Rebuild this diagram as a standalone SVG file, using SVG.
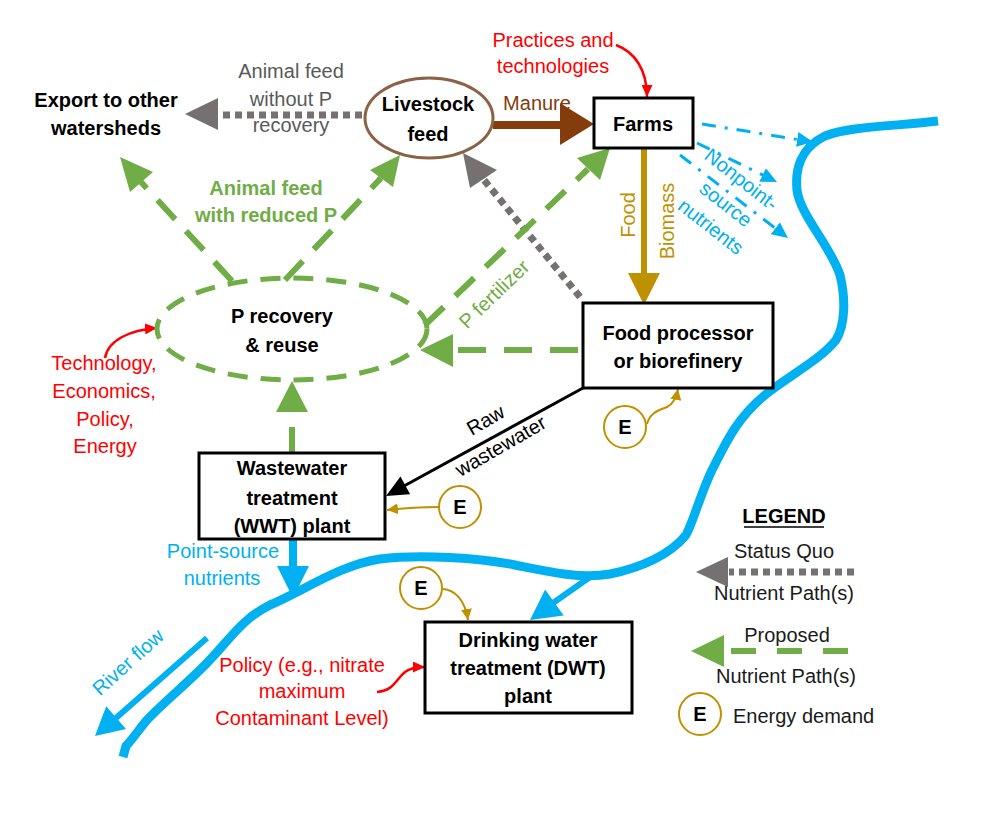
<svg xmlns="http://www.w3.org/2000/svg" width="983" height="831" viewBox="0 0 983 831">
<defs>
<style>
.t{font-family:"Liberation Sans",Arial,sans-serif;font-size:20px;text-anchor:middle}
.b{font-weight:bold;fill:#000}
.box{fill:#fff;stroke:#000;stroke-width:3}
.gd{stroke:#70AD47;stroke-width:6;stroke-dasharray:26 16;fill:none}
.gy{stroke:#767171;stroke-width:7;stroke-dasharray:7 5;fill:none}
.dd{stroke:#00B0F0;stroke-width:3;stroke-dasharray:14 9 3 9;fill:none}
.ec{fill:#fff;stroke:#BF9000;stroke-width:2}
.gf{fill:#70AD47}
.gyf{fill:#767171}
.red{fill:#FF0000}
.blue{fill:#00B0F0}
.gold{fill:#BF9000}
</style>
<marker id="mb" markerUnits="userSpaceOnUse" markerWidth="17" markerHeight="15" refX="16" refY="7.5" orient="auto"><path d="M0,0 L16,7.5 L0,15 z" fill="#00B0F0"/></marker>
<marker id="mg" markerUnits="userSpaceOnUse" markerWidth="12" markerHeight="11" refX="11" refY="5.5" orient="auto"><path d="M0,0 L11,5.5 L0,11 z" fill="#BF9000"/></marker>
<marker id="mr" markerUnits="userSpaceOnUse" markerWidth="13" markerHeight="11" refX="12" refY="5.5" orient="auto"><path d="M0,0 L12,5.5 L0,11 z" fill="#FF0000"/></marker>
</defs>
<rect width="983" height="831" fill="#fff"/>

<g id="river">
<path fill="none" stroke="#00B0F0" stroke-width="9" stroke-linejoin="round" d="M938,121 C900,126 850,126 825,136 C800,148 795,170 797,190 C800,215 830,245 840,275 C846,300 845,325 836,340 C820,360 790,375 765,395 C735,420 725,445 712,470 C700,495 694,520 686,535 C670,555 640,568 610,574 C580,579 550,572 515,565 C480,558 420,554 380,559 C340,565 305,590 270,605 C240,620 230,640 205,665 C182,688 162,704 147,720 C140,728 132,740 126,746 L123,757"/>
</g>

<g id="connectors">
<line class="gy" x1="362" y1="115" x2="219" y2="115"/>
<polygon class="gyf" points="185,114 218,98 218,130"/>
<line class="gy" x1="580" y1="297" x2="484" y2="180"/>
<polygon class="gyf" points="463,153 470,188 497,170"/>
<line class="gd" x1="232" y1="281" x2="141" y2="182"/>
<polygon class="gf" points="120,157 130,192 153,172"/>
<line class="gd" x1="285" y1="280" x2="381" y2="178"/>
<polygon class="gf" points="400,155 370,170 393,187"/>
<line class="gd" x1="425" y1="325" x2="588" y2="169"/>
<polygon class="gf" points="610,148 577,158 600,180"/>
<line class="gd" x1="578" y1="350" x2="453" y2="350" style="stroke-dasharray:28 18"/>
<polygon class="gf" points="420,350 453,334 453,367"/>
<line class="gd" x1="292" y1="452" x2="292" y2="412" style="stroke-dasharray:25 15"/>
<polygon class="gf" points="292,381 276,412 308,412"/>
<line x1="493" y1="125" x2="562" y2="125" stroke="#843C0C" stroke-width="8"/>
<polygon fill="#843C0C" points="594,124 560,103 560,145"/>
<line x1="644" y1="148" x2="644" y2="275" stroke="#BF9000" stroke-width="6"/>
<polygon class="gold" points="628,273 660,273 644,305"/>
<line class="dd" x1="702" y1="124" x2="813" y2="142" marker-end="url(#mb)"/>
<line class="dd" x1="697" y1="143" x2="777" y2="182" marker-end="url(#mb)"/>
<line class="dd" x1="680" y1="155" x2="788" y2="238" marker-end="url(#mb)"/>
<line x1="583" y1="388" x2="404" y2="486" stroke="#000" stroke-width="3"/>
<polygon fill="#000" points="386,496 400.5,476.6 410.1,494.2"/>
<line x1="293" y1="540" x2="293" y2="568" stroke="#00B0F0" stroke-width="8"/>
<polygon class="blue" points="277,566 309,566 293,598"/>
<line x1="590" y1="577" x2="553" y2="603" stroke="#00B0F0" stroke-width="6"/>
<polygon class="blue" points="530,620 545.1,589.5 563.7,615.5"/>
<line x1="207" y1="638" x2="116" y2="718" stroke="#00B0F0" stroke-width="6"/>
<polygon class="blue" points="95,736 106.2,706.3 126,728.9"/>
<path d="M647,424 C650,412 660,410 667,407 C673,404 676,399 678,389" fill="none" stroke="#BF9000" stroke-width="2" marker-end="url(#mg)"/>
<path d="M439,507 C420,507 405,508 387,510" fill="none" stroke="#BF9000" stroke-width="2" marker-end="url(#mg)"/>
<path d="M443,589 C455,590 465,600 468,620" fill="none" stroke="#BF9000" stroke-width="2" marker-end="url(#mg)"/>
<path d="M616,45 C635,52 647,70 647,97" fill="none" stroke="#FF0000" stroke-width="2.5" marker-end="url(#mr)"/>
<path d="M105,358 C108,340 130,330 157,328" fill="none" stroke="#FF0000" stroke-width="2.5" marker-end="url(#mr)"/>
<path d="M377,692 C395,690 395,680 405,672 C410,668 416,667 425,667" fill="none" stroke="#FF0000" stroke-width="2.5" marker-end="url(#mr)"/>
</g>

<g id="labels">
<text class="t" x="291" y="78" fill="#595959">Animal feed</text>
<text class="t" x="291" y="106" fill="#595959">without P</text>
<text class="t" x="291" y="132" fill="#595959">recovery</text>
<text class="t" x="537" y="110" fill="#843C0C">Manure</text>
<text class="t" x="553" y="47" fill="#FF0000">Practices and</text>
<text class="t" x="553" y="73" fill="#FF0000">technologies</text>
<text class="t" x="266" y="195" fill="#70AD47" font-weight="bold">Animal feed</text>
<text class="t" x="266" y="222" fill="#70AD47" font-weight="bold">with reduced P</text>
<text class="t" fill="#70AD47" transform="translate(494,294) rotate(-44)" y="7">P fertilizer</text>
<text class="t" fill="#BF9000" transform="translate(628,215) rotate(-90)" y="7">Food</text>
<text class="t" fill="#BF9000" transform="translate(667,221) rotate(-90)" y="7">Biomass</text>
<g transform="translate(726,204) rotate(38)" fill="#00B0F0">
<text class="t" x="-3" y="-22">Nonpoint-</text>
<text class="t" x="0" y="7">source</text>
<text class="t" x="2" y="34">nutrients</text>
</g>
<g transform="translate(493,433) rotate(-30)" fill="#000">
<text class="t" x="0" y="-8">Raw</text>
<text class="t" x="0" y="22">wastewater</text>
</g>
<text class="t" x="104" y="370" fill="#FF0000">Technology,</text>
<text class="t" x="104" y="398" fill="#FF0000">Economics,</text>
<text class="t" x="105" y="426" fill="#FF0000">Policy,</text>
<text class="t" x="105" y="453" fill="#FF0000">Energy</text>
<text class="t" x="223" y="558" fill="#00B0F0">Point-source</text>
<text class="t" x="222" y="585" fill="#00B0F0">nutrients</text>
<text class="t" fill="#00B0F0" transform="translate(128,662) rotate(-42)" y="7">River flow</text>
<text class="t" x="302" y="672" fill="#FF0000">Policy (e.g., nitrate</text>
<text class="t" x="302" y="698" fill="#FF0000">maximum</text>
<text class="t" x="302" y="725" fill="#FF0000">Contaminant Level)</text>
</g>

<g id="export">
<text class="t b" x="106" y="107">Export to other</text>
<text class="t b" x="106" y="135">watersheds</text>
</g>

<g id="livestock">
<ellipse cx="429" cy="118" rx="64" ry="40" fill="#fff" stroke="#8C6246" stroke-width="3"/>
<text class="t b" x="428" y="111">Livestock</text>
<text class="t b" x="428" y="141">feed</text>
</g>

<g id="farms">
<rect class="box" x="594" y="98" width="99" height="50"/>
<text class="t b" x="643" y="131">Farms</text>
</g>

<g id="precovery">
<ellipse cx="292" cy="329" rx="135" ry="51" fill="none" stroke="#70AD47" stroke-width="5" stroke-dasharray="20 13"/>
<text class="t b" x="282" y="323">P recovery</text>
<text class="t b" x="282" y="352">&amp; reuse</text>
</g>

<g id="foodproc">
<rect class="box" x="583" y="303" width="190" height="85"/>
<text class="t b" x="678" y="340">Food processor</text>
<text class="t b" x="678" y="368">or biorefinery</text>
</g>

<g id="e-foodproc">
<circle class="ec" cx="625" cy="427" r="21"/>
<text class="t b" x="625" y="434">E</text>
</g>

<g id="wwt">
<rect class="box" x="199" y="453" width="186" height="86"/>
<text class="t b" x="292" y="475">Wastewater</text>
<text class="t b" x="292" y="505">treatment</text>
<text class="t b" x="292" y="533">(WWT) plant</text>
</g>

<g id="e-wwt">
<circle class="ec" cx="460" cy="507" r="21"/>
<text class="t b" x="460" y="514">E</text>
</g>

<g id="e-dwt">
<circle class="ec" cx="421" cy="588" r="21"/>
<text class="t b" x="421" y="595">E</text>
</g>

<g id="dwt">
<rect class="box" x="425" y="622" width="207" height="91"/>
<text class="t b" x="528" y="647">Drinking water</text>
<text class="t b" x="528" y="675">treatment (DWT)</text>
<text class="t b" x="528" y="703">plant</text>
</g>

<g id="legend">
<text class="t b" x="784" y="523">LEGEND</text>
<line x1="744" y1="527" x2="824" y2="527" stroke="#000" stroke-width="1.5"/>
<text class="t" x="784" y="558" fill="#1a1a1a">Status Quo</text>
<line class="gy" x1="854" y1="572" x2="729" y2="572"/>
<polygon class="gyf" points="696,572 728,557 728,587"/>
<text class="t" x="784" y="600" fill="#1a1a1a">Nutrient Path(s)</text>
<text class="t" x="787" y="642" fill="#1a1a1a">Proposed</text>
<line class="gd" x1="848" y1="651" x2="726" y2="651" style="stroke-dasharray:25 21"/>
<polygon class="gf" points="691,651 724,635 724,667"/>
<text class="t" x="786" y="683" fill="#1a1a1a">Nutrient Path(s)</text>
<circle class="ec" cx="700" cy="714" r="21"/>
<text class="t b" x="700" y="721">E</text>
<text class="t" x="733" y="723" fill="#1a1a1a" style="text-anchor:start">Energy demand</text>
</g>
</svg>
